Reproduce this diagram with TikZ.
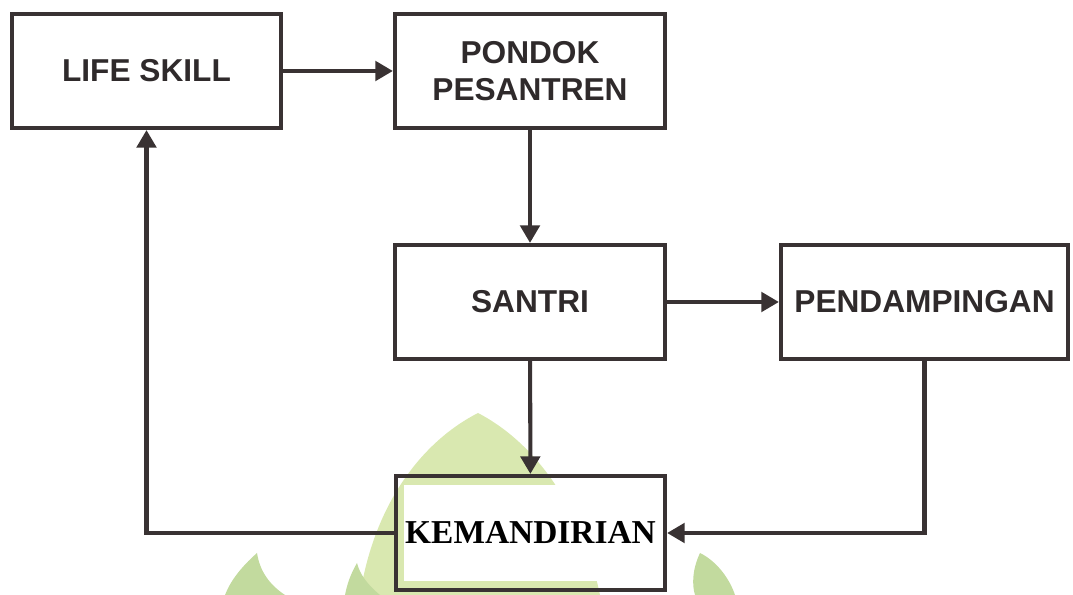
\documentclass[tikz,border=0pt]{standalone}
\usepackage{fontspec}
\setmainfont{Liberation Sans}
\newfontfamily\timesfont{Liberation Serif}
\usetikzlibrary{arrows.meta}
\definecolor{linegray}{HTML}{393233}
\definecolor{textgray}{HTML}{2F2A2B}
\definecolor{leaflight}{HTML}{D9E8B0}
\definecolor{leafdark}{HTML}{C2DA9E}

\tikzset{
  box/.style={draw=linegray, line width=1.15pt, minimum width=2.7cm, minimum height=1.14cm,
    inner sep=0pt, align=center, text=textgray,
    font=\fontsize{9}{10.5}\selectfont\bfseries},
  link/.style={draw=linegray, line width=1.15pt, -{Triangle[length=5pt,width=5.5pt]}},
}

\begin{document}
\begin{tikzpicture}[x=0.01cm,y=-0.01cm]
    \useasboundingbox (0,0) rectangle (1073,595);

    % Watermark behind the chart
    \fill[leaflight] (478,413) .. controls (530,440) and (580,500) .. (600,595)
        -- (360,595) .. controls (375,500) and (425,440) .. (478,413);
    \fill[leafdark] (257,553) .. controls (240,568) and (230,582) .. (225,595)
        -- (285,595) .. controls (270,585) and (260,572) .. (257,553);
    \fill[leafdark] (357,563) .. controls (350,575) and (347,585) .. (345,595)
        -- (380,595) .. controls (368,585) and (360,575) .. (357,563);
    \fill[leafdark] (700,553) .. controls (692,570) and (692,585) .. (695,595)
        -- (735,595) .. controls (730,580) and (718,562) .. (700,553);

    % Boxes
    \node[box, minimum width=2.68cm] (life) at (146.5,71) {LIFE SKILL};
    \node[box] (pondok) at (530,71) {PONDOK\\PESANTREN};
    \node[box] (santri) at (530,302) {SANTRI};
    \node[box, minimum width=2.87cm] (pendamping) at (924.5,302) {PENDAMPINGAN};
    \node[box, minimum width=2.69cm] (kemandirian) at (530.5,533) {};
    \node[fill=white, minimum width=2.52cm, minimum height=0.96cm, inner sep=0pt,
        font=\timesfont\fontsize{9.5}{11}\selectfont\bfseries] (kemtext) at (kemandirian) {KEMANDIRIAN};

    % Arrows
    \draw[link] (life) -- (pondok);
    \draw[link] (pondok) -- (santri);
    \draw[link] (santri) -- (pendamping);
    \draw[link] (santri) -- (kemandirian);
    \draw[link] (pendamping.south) |- (kemandirian.east);
    \draw[link] (kemandirian.west) -| (life.south);

\end{tikzpicture}
\end{document}
